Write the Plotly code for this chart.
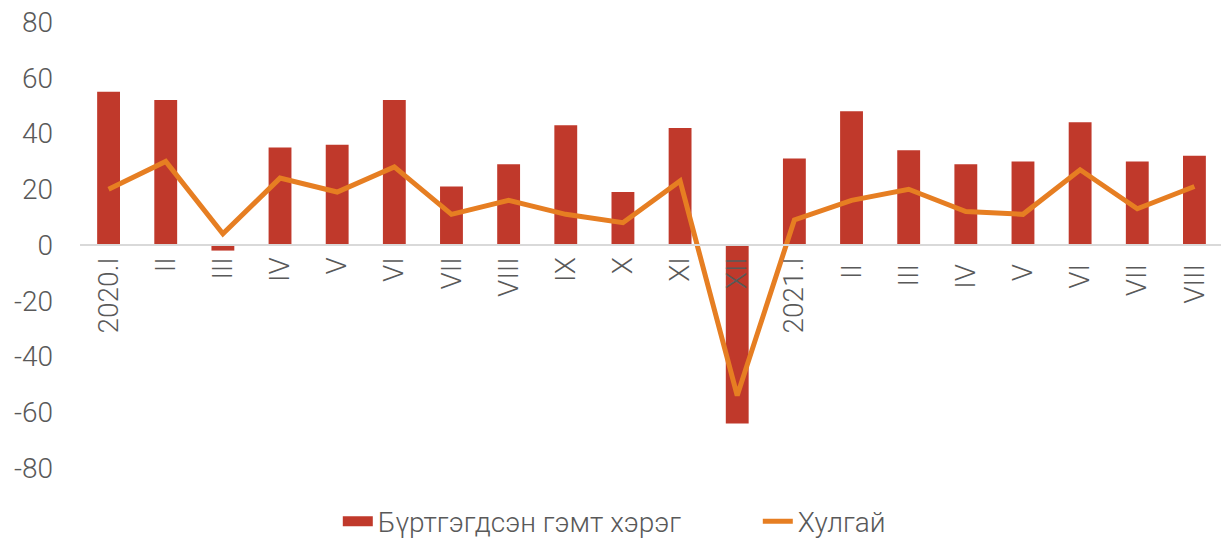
import plotly.graph_objects as go

categories = ["2020.I", "II", "III", "IV", "V", "VI", "VII", "VIII", "IX", "X", "XI", "XII",
              "2021.I", "II ", "III ", "IV ", "V ", "VI ", "VII ", "VIII "]
crimes = [55, 52, -2, 35, 36, 52, 21, 29, 43, 19, 42, -64, 31, 48, 34, 29, 30, 44, 30, 32]
theft = [20, 30, 4, 24, 19, 28, 11, 16, 11, 8, 23, -54, 9, 16, 20, 12, 11, 27, 13, 21]
y_ticks = [-80, -60, -40, -20, 0, 20, 40, 60, 80]
y_tick_text = ["-80", "-60", "-40", "-20", "0", "20", "40", "60", "80"]

font_family = "Roboto"
gray = "#595959"
bar_color = "#C0392B"
line_color = "#E67E22"
fs = 28

fig = go.Figure()
fig.add_trace(go.Bar(x=categories, y=crimes, name="Бүртгэгдсэн гэмт хэрэг",
                     marker=dict(color=bar_color, line=dict(width=0)), showlegend=False))
fig.add_trace(go.Scatter(x=[None], y=[None], name="Бүртгэгдсэн гэмт хэрэг", mode="lines",
                         line=dict(color=bar_color, width=17)))
fig.add_trace(go.Scatter(x=categories, y=theft, name="Хулгай", mode="lines",
                         line=dict(color=line_color, width=5)))

fig.update_layout(
    width=1221, height=544,
    margin=dict(l=72, r=6, t=14, b=80),
    plot_bgcolor="white", paper_bgcolor="white",
    bargap=0.6,
    font=dict(family=font_family, size=fs, color=gray, weight=300),
    showlegend=True,
    legend=dict(orientation="h", x=0.593, xanchor="center", y=-0.12, yanchor="middle",
                font=dict(size=fs, color=gray, family=font_family, weight=300),
                traceorder="normal", entrywidth=375, entrywidthmode="pixels"),
    xaxis=dict(type="category", anchor="free", position=0.5, automargin=False,
               tickangle=-90, showline=True, linecolor="#D9D9D9", linewidth=2,
               showgrid=False, ticks="", zeroline=False,
               tickfont=dict(size=fs, color=gray, family=font_family, weight=300)),
    yaxis=dict(range=[-80, 80], tickvals=y_ticks, ticktext=y_tick_text, showgrid=False,
               zeroline=False, showline=False, ticks="", automargin=False,
               ticklabelstandoff=26, ticklabeloverflow="allow",
               tickfont=dict(size=fs, color=gray, family=font_family, weight=300)),
)

fig.write_html("out.html")
